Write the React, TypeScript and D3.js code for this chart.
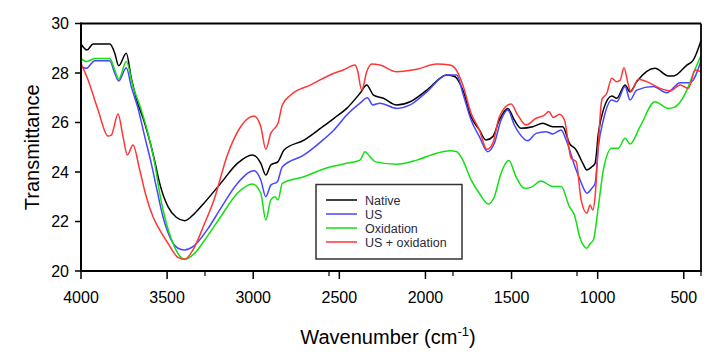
import React from "react";
import * as d3 from "d3";

type Pt = [number, number];

const native: Pt[] = [[4000,29.17],[3965,28.93],[3930,29.17],[3832,29.17],[3804,28.80],[3781,28.29],[3737,28.80],[3708,27.79],[3679,26.98],[3630,25.97],[3592,25.02],[3569,24.35],[3543,23.54],[3495,22.60],[3447,22.17],[3398,22.03],[3340,22.33],[3286,22.74],[3189,23.54],[3092,24.35],[3005,24.69],[2956,24.35],[2927,23.88],[2898,24.28],[2856,24.42],[2821,24.89],[2705,25.29],[2608,25.77],[2531,26.17],[2457,26.57],[2380,27.18],[2341,27.52],[2302,27.11],[2244,26.98],[2167,26.71],[2089,26.84],[1992,27.31],[1876,27.92],[1828,27.85],[1783,27.31],[1735,26.23],[1687,25.70],[1648,25.29],[1609,25.43],[1571,26.10],[1522,26.57],[1484,26.10],[1445,25.77],[1377,25.83],[1319,25.97],[1261,25.83],[1203,25.83],[1164,25.16],[1125,24.89],[1086,24.35],[1063,24.08],[1034,24.21],[1015,24.35],[996,25.56],[967,26.51],[918,27.07],[889,26.98],[841,27.52],[812,27.24],[773,27.65],[667,28.19],[589,27.88],[560,27.88],[482,28.32],[444,28.53],[400,29.3]];

const us: Pt[] = [[4000,28.25],[3969,28.19],[3920,28.50],[3833,28.50],[3804,27.99],[3781,27.68],[3737,28.21],[3708,27.45],[3669,26.57],[3630,25.43],[3592,24.35],[3563,23.41],[3524,22.19],[3485,21.39],[3437,20.92],[3398,20.85],[3350,20.98],[3262,21.72],[3189,22.53],[3092,23.54],[2995,24.05],[2956,23.68],[2927,23.00],[2898,23.47],[2860,23.61],[2831,24.21],[2705,24.69],[2608,25.22],[2531,25.70],[2457,26.30],[2380,26.78],[2337,27.00],[2306,26.71],[2264,26.78],[2167,26.57],[2089,26.71],[1992,27.24],[1876,27.92],[1818,27.92],[1783,27.18],[1735,26.10],[1687,25.43],[1638,24.82],[1600,25.16],[1561,26.10],[1522,26.51],[1484,25.90],[1455,25.56],[1406,25.26],[1358,25.56],[1300,25.63],[1261,25.54],[1212,25.70],[1183,25.29],[1125,24.08],[1102,23.68],[1077,23.27],[1063,23.14],[1034,23.34],[1015,23.54],[996,25.02],[967,26.10],[918,26.91],[889,26.84],[841,27.45],[812,26.91],[773,27.31],[677,27.45],[599,27.20],[521,27.61],[463,27.61],[400,28.5]];

const oxidation: Pt[] = [[4000,28.59],[3969,28.46],[3920,28.59],[3833,28.59],[3804,28.12],[3781,27.75],[3737,28.46],[3698,27.45],[3650,26.51],[3611,25.56],[3572,24.35],[3543,23.14],[3514,22.19],[3466,21.12],[3427,20.61],[3398,20.47],[3350,20.65],[3262,21.45],[3189,22.19],[3092,23.14],[3005,23.52],[2956,23.14],[2927,22.06],[2898,22.87],[2875,23.00],[2856,22.87],[2831,23.54],[2705,23.81],[2608,24.08],[2531,24.24],[2457,24.35],[2380,24.48],[2351,24.82],[2322,24.62],[2293,24.42],[2167,24.31],[2050,24.48],[1934,24.76],[1857,24.86],[1818,24.82],[1783,24.48],[1735,23.68],[1687,23.14],[1635,22.71],[1600,23.00],[1561,23.95],[1516,24.46],[1474,23.81],[1426,23.34],[1387,23.38],[1329,23.64],[1261,23.41],[1212,23.41],[1164,22.60],[1135,22.26],[1102,21.32],[1077,20.98],[1063,20.92],[1044,21.10],[1025,21.25],[996,22.60],[967,24.08],[918,24.96],[880,24.96],[841,25.36],[812,25.13],[754,25.83],[667,26.84],[589,26.57],[560,26.60],[482,27.31],[444,27.99],[400,28.7]];

const usOxidation: Pt[] = [[4000,28.39],[3959,27.72],[3901,26.51],[3843,25.45],[3824,25.49],[3785,26.34],[3756,25.43],[3731,24.69],[3698,25.09],[3659,24.08],[3621,23.00],[3582,22.19],[3543,21.66],[3495,21.12],[3437,20.55],[3398,20.47],[3350,20.85],[3286,21.86],[3228,22.87],[3150,24.69],[3073,25.83],[2995,26.26],[2956,25.83],[2927,24.92],[2898,25.56],[2856,25.97],[2831,26.71],[2782,27.11],[2666,27.52],[2531,27.99],[2477,28.12],[2409,28.32],[2395,28.12],[2370,27.31],[2341,28.05],[2312,28.36],[2264,28.32],[2167,28.05],[2050,28.15],[1934,28.36],[1857,28.32],[1828,28.19],[1783,27.52],[1735,26.37],[1687,25.70],[1644,24.92],[1609,25.16],[1571,26.23],[1503,26.75],[1464,26.30],[1416,25.90],[1358,26.17],[1309,26.30],[1284,26.44],[1257,26.20],[1222,26.33],[1193,26.10],[1154,24.55],[1125,24.42],[1096,22.87],[1063,22.33],[1044,22.67],[1028,22.46],[1015,23.00],[996,25.16],[976,26.91],[947,27.18],[918,27.79],[889,27.65],[870,27.70],[847,28.21],[822,27.52],[808,27.24],[764,27.75],[715,27.65],[637,27.38],[579,27.28],[521,27.52],[473,27.38],[434,28.12],[400,28.05]];

const seriesNames = ["Native", "US", "Oxidation", "US + oxidation"];
const seriesData = [native, us, oxidation, usOxidation];
const seriesColors = ["#000000", "#4646ff", "#12e012", "#ff3636"];

const xMajorTicks = [4000, 3500, 3000, 2500, 2000, 1500, 1000, 500];
const xMinorTicks = [3280, 2560, 1840, 1120, 400];
const yTicks = [20, 22, 24, 26, 28, 30];

const W = 725, H = 361;
const FONT = "'Liberation Sans', Arial, sans-serif";

export default function App() {
  const x = d3.scaleLinear().domain([4000, 400]).range([81, 701]);
  const y = d3.scaleLinear().domain([20, 30]).range([271, 23.5]);
  const line = d3.line<Pt>().x(d => x(d[0])).y(d => y(d[1])).curve(d3.curveMonotoneX);

  const legX = 316, legY = 184.5, legW = 146, legH = 74.5;
  const rowY = [200, 214, 228, 242];

  return (
    <svg width={W} height={H} style={{ position: "absolute", left: 0, top: 0, display: "block", background: "#fff" }} fontFamily={FONT}>
      <rect x={0} y={0} width={W} height={H} fill="#fff" />
      <g>
        {seriesData.map((s, i) => (
          <path key={i} d={line(s) || ""} fill="none" stroke={seriesColors[i]} strokeWidth={1.5} strokeLinejoin="round" />
        ))}
      </g>
      {/* frame */}
      <line x1={x(4000)} x2={x(400)} y1={y(30)} y2={y(30)} stroke="#000" strokeWidth={2.2} />
      <line x1={x(400)} x2={x(400)} y1={y(30)} y2={y(20)} stroke="#000" strokeWidth={1.8} />
      <line x1={x(4000)} x2={x(4000)} y1={y(30) - 1} y2={y(20) + 1} stroke="#000" strokeWidth={2} />
      <line x1={x(4000) - 1} x2={x(400) + 1} y1={y(20)} y2={y(20)} stroke="#000" strokeWidth={2} />
      {/* y ticks */}
      {yTicks.map(t => (
        <g key={t}>
          <line x1={x(4000) - 6} x2={x(4000)} y1={y(t)} y2={y(t)} stroke="#000" strokeWidth={1.5} />
          <text x={69} y={y(t)} dy="0.36em" textAnchor="end" fontSize={16} fill="#000">{t}</text>
        </g>
      ))}
      {/* x ticks */}
      {xMajorTicks.map(t => (
        <g key={t}>
          <line x1={x(t)} x2={x(t)} y1={y(20)} y2={y(20) + 8} stroke="#000" strokeWidth={1.5} />
          <text x={x(t)} y={303} textAnchor="middle" fontSize={16} fill="#000">{t}</text>
        </g>
      ))}
      {xMinorTicks.map(t => (
        <line key={t} x1={x(t)} x2={x(t)} y1={y(20)} y2={y(20) + 5} stroke="#000" strokeWidth={1.2} />
      ))}
      {/* axis titles */}
      <text transform={`translate(39, ${(y(20) + y(30)) / 2}) rotate(-90)`} textAnchor="middle" fontSize={20} fill="#000">Transmittance</text>
      <text x={388} y={344} textAnchor="middle" fontSize={20} fill="#000">
        Wavenumber (cm<tspan dy={-8} fontSize={13}>-1</tspan><tspan dy={8}>)</tspan>
      </text>
      {/* legend */}
      <rect x={legX} y={legY} width={legW} height={legH} fill="#fff" stroke="#333" strokeWidth={1.5} />
      {seriesNames.map((n, i) => (
        <g key={n}>
          <line x1={326} x2={357} y1={rowY[i]} y2={rowY[i]} stroke={seriesColors[i]} strokeWidth={1.5} />
          <text x={365} y={rowY[i]} dy="0.36em" fontSize={12.5} fill="#2a2a40">{n}</text>
        </g>
      ))}
    </svg>
  );
}
